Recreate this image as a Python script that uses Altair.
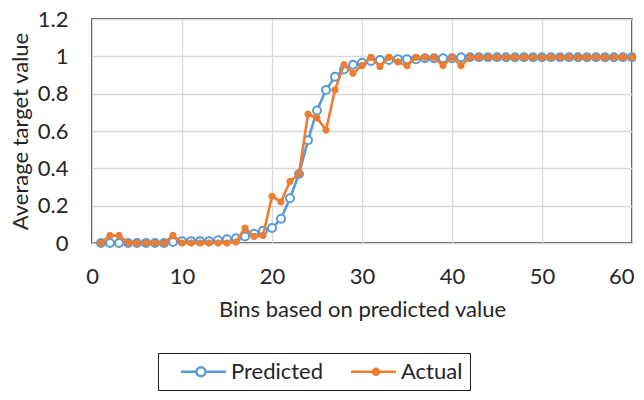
import altair as alt
import pandas as pd

bins = list(range(1, 61))
predicted = [
    0.0, 0.0, 0.0, 0.0, 0.0, 0.0, 0.0, 0.0, 0.005, 0.01,
    0.01, 0.01, 0.01, 0.015, 0.02, 0.025, 0.035, 0.05, 0.065, 0.08,
    0.13, 0.24, 0.37, 0.55, 0.71, 0.82, 0.89, 0.93, 0.955, 0.965,
    0.975, 0.98, 0.98, 0.985, 0.985, 0.985, 0.99, 0.99, 0.99, 0.99,
    0.995, 0.995, 0.995, 0.995, 0.995, 0.995, 0.995, 0.995, 0.995, 0.995,
    0.995, 0.995, 0.995, 0.995, 0.995, 0.995, 0.995, 0.995, 0.995, 0.995,
]
actual = [
    0.0, 0.04, 0.04, 0.0, 0.0, 0.0, 0.0, 0.0, 0.04, 0.0,
    0.0, 0.0, 0.0, 0.0, 0.0, 0.005, 0.08, 0.035, 0.04, 0.25,
    0.22, 0.33, 0.37, 0.69, 0.67, 0.605, 0.82, 0.955, 0.91, 0.95,
    0.995, 0.945, 0.995, 0.97, 0.95, 0.995, 0.995, 0.995, 0.95, 0.995,
    0.95, 0.995, 0.995, 0.995, 0.995, 0.995, 0.995, 0.995, 0.995, 0.995,
    0.995, 0.995, 0.995, 0.995, 0.995, 0.995, 0.995, 0.995, 0.995, 0.995,
]
series_names = ["Predicted", "Actual"]
x_ticks = [0, 10, 20, 30, 40, 50, 60]
y_ticks = [0, 0.2, 0.4, 0.6, 0.8, 1.0, 1.2]

BLUE = "#5B9BD5"
ORANGE = "#ED7D31"
TEXT = "#262626"
FONT = "Lato"

df = pd.DataFrame(
    {
        "bin": bins * 2,
        "value": predicted + actual,
        "series": ["Predicted"] * len(bins) + ["Actual"] * len(bins),
    }
)

# legend glyphs (units of 10 px): line with a marker on it
P_SYM = "M0.45,0L2.0,0M2.9,0L4.95,0M2.0,0A0.45,0.45,0,1,1,2.9,0A0.45,0.45,0,1,1,2.0,0"
A_SYM = "M0.45,0L2.65,0M3.25,0L4.95,0M2.65,0A0.3,0.3,0,1,1,3.25,0A0.3,0.3,0,1,1,2.65,0"

x = alt.X(
    "bin:Q",
    scale=alt.Scale(domain=[0, 60], nice=False),
    axis=alt.Axis(
        values=x_ticks, title="Bins based on predicted value",
        labelPadding=23, titlePadding=12, labelFlush=False,
        labelAlign={"condition": {"test": "datum.value == 60", "value": "right"}, "value": "center"},
        labelOffset={"condition": {"test": "datum.value == 60", "value": 2}, "value": 0},
    ),
)
y = alt.Y(
    "value:Q",
    scale=alt.Scale(domain=[0, 1.2], nice=False),
    axis=alt.Axis(values=y_ticks, format=".1~f", title="Average target value",
                  labelPadding=24, titlePadding=5, labelFlush=False),
)
stroke_scale = alt.Scale(domain=series_names, range=[BLUE, ORANGE])
fill_scale = alt.Scale(domain=series_names, range=["white", ORANGE])
shape_scale = alt.Scale(domain=series_names, range=[P_SYM, A_SYM])

legend = alt.Legend(
    title=None,
    orient="none",
    legendX=66,
    legendY=334,
    direction="horizontal",
    strokeColor="#1a1a1a",
    padding=7,
    columnPadding=11,
    labelOffset=43,
    labelFont=FONT,
    labelFontSize=22,
    labelColor=TEXT,
    symbolSize=400,
    symbolStrokeWidth=2.5,
    symbolOpacity=1,
)

base = alt.Chart(df)


def layers(name, color, fill, size, sw):
    sub = base.transform_filter(alt.datum.series == name)
    line = sub.mark_line(strokeWidth=2.6, stroke=color).encode(x=x, y=y)
    pts = sub.mark_point(
        strokeWidth=sw, opacity=1, filled=True, stroke=color, fill=fill, size=size
    ).encode(x=x, y=y)
    return [line, pts]


legend_layer = base.transform_filter("false").mark_point(
    filled=True, strokeWidth=2.5, opacity=1
).encode(
    x=x, y=y,
    stroke=alt.Stroke("series:N", scale=stroke_scale, legend=legend),
    fill=alt.Fill("series:N", scale=fill_scale, legend=legend),
    shape=alt.Shape("series:N", scale=shape_scale, legend=legend),
)

chart = alt.layer(
    *layers("Predicted", BLUE, "white", 64, 2),
    *layers("Actual", ORANGE, ORANGE, 40, 1),
    legend_layer,
).properties(
    width=540,
    height=224,
    autosize=alt.AutoSizeParams(type="none"),
    padding={"left": 84, "top": 11, "right": 4, "bottom": 149},
).configure_view(
    stroke="#1a1a1a", strokeWidth=1.5
).configure_axis(
    gridColor="#d9d9d9",
    gridWidth=1.3,
    domain=False,
    ticks=False,
    labelFont=FONT,
    labelFontSize=22,
    labelColor=TEXT,
    titleFont=FONT,
    titleFontSize=22,
    titleFontWeight="normal",
    titleColor=TEXT,
)

chart.save("out.html", embed_options={"renderer": "svg", "actions": False})
